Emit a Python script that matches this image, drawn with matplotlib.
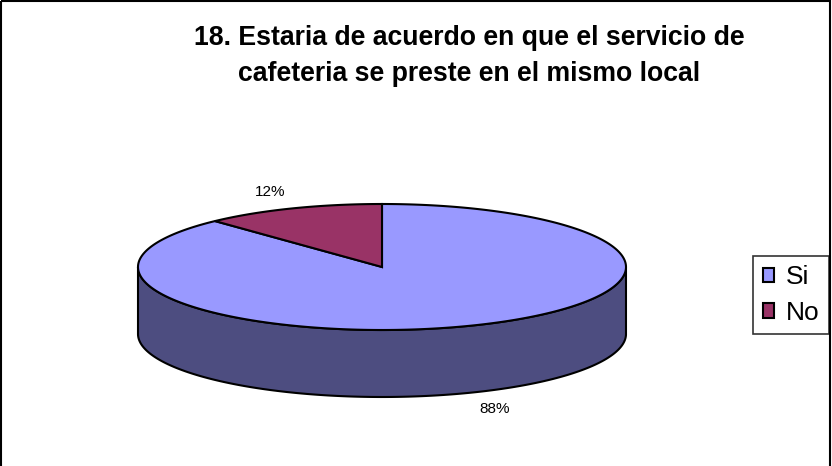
import numpy as np
import matplotlib.pyplot as plt
from matplotlib.patches import Polygon, Rectangle, Patch

# data
labels = ['Si', 'No']
values = [88, 12]
colors = ['#9999ff', '#993366']
side_colors = ['#4d4d80', '#4d1a33']
title = '18. Estaria de acuerdo en que el servicio de\ncafeteria se preste en el mismo local'

plt.rcParams['font.family'] = ['Liberation Sans', 'DejaVu Sans']

# pie geometry in pixel coords
cx, cy = 382, 267      # centre of top face
a, b = 244, 63         # ellipse radii
depth = 67             # thickness of the pie

def pt(th, dz=0):
    th = np.radians(th)
    return cx + a*np.cos(th), cy - b*np.sin(th) + dz

fig = plt.figure(figsize=(8.32, 4.66), dpi=100)
ax = fig.add_axes([0, 0, 1, 1])
ax.set_xlim(0, 832)
ax.set_ylim(466, 0)
ax.axis('off')

# outer border of the chart area
ax.add_patch(Rectangle((1, 1), 829, 480, fill=False, ec='black', lw=1.5))

# slice angles: first slice goes clockwise from 12 o'clock
total = float(sum(values))
starts, ends = [], []
ang = 90.0
for v in values:
    starts.append(ang)
    ang -= 360*v/total
    ends.append(ang)

# side walls (only the front half is visible)
for i in range(len(values)):
    ts = np.linspace(ends[i], starts[i], 400)
    vis = ts[np.sin(np.radians(ts)) <= 0]
    if len(vis) < 2:
        continue
    top = [pt(t) for t in vis]
    bot = [pt(t, depth) for t in vis[::-1]]
    ax.add_patch(Polygon(top + bot, closed=True, fc=side_colors[i],
                         ec='black', lw=1.5, joinstyle='round'))

# top face wedges
for i in range(len(values)):
    ts = np.linspace(starts[i], ends[i], 400)
    verts = [(cx, cy)] + [pt(t) for t in ts]
    ax.add_patch(Polygon(verts, closed=True, fc=colors[i], ec='black',
                         lw=1.5, joinstyle='miter'))

# percentage labels
for i, v in enumerate(values):
    mid = np.radians((starts[i] + ends[i]) / 2)
    x = cx + 1.25*a*np.cos(mid)
    y = cy - 1.28*b*np.sin(mid)
    if np.sin(mid) < 0:
        y += depth
    ax.text(x, y, f'{v}%', ha='center', va='center', fontsize=11)

ax.text(469, 56, title, ha='center', va='center', fontsize=19.2,
        fontweight='bold', linespacing=1.5)

handles = [Patch(fc=c, ec='black', lw=1.5) for c in colors]
ax.legend(handles, labels, loc='center left', bbox_to_anchor=(753, 295),
          bbox_transform=ax.transData, fontsize=19, frameon=True,
          fancybox=False, edgecolor='black', handlelength=0.45,
          handleheight=0.45, handletextpad=0.45, labelspacing=0.45,
          borderpad=0.36, borderaxespad=0)
ax.get_legend().get_frame().set_linewidth(1.2)

fig.savefig('out.png', dpi=100)
